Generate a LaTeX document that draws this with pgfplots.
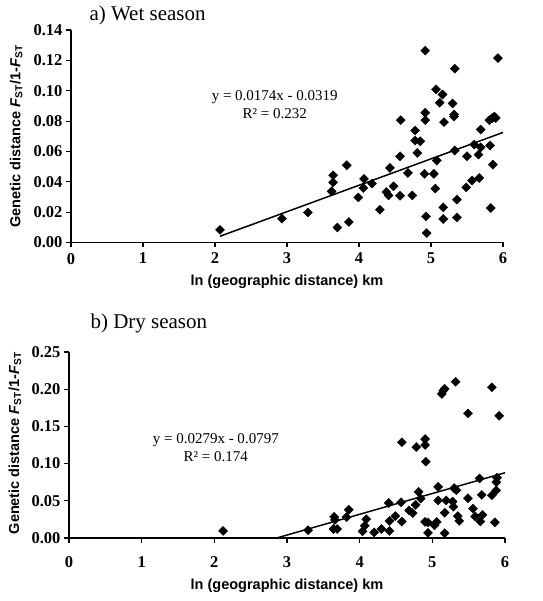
\documentclass[border=0pt]{standalone}
\usepackage{fontspec}
\setmainfont{Liberation Serif}
\newfontfamily\arialfont{Liberation Sans}
\usepackage{pgfplots}
\pgfplotsset{compat=1.18}

\pgfplotstableread{
x y
2.07 0.0083
2.93 0.0157
3.29 0.0198
3.62 0.0337
3.64 0.0396
3.64 0.0443
3.70 0.0099
3.83 0.0509
3.86 0.0135
3.99 0.0297
4.06 0.0359
4.07 0.0419
4.18 0.0388
4.29 0.0216
4.38 0.0333
4.41 0.0310
4.43 0.0491
4.48 0.0370
4.57 0.0308
4.57 0.0568
4.58 0.0806
4.68 0.0458
4.74 0.0310
4.78 0.0738
4.78 0.0672
4.85 0.0667
4.81 0.0590
4.92 0.1264
4.92 0.0855
4.92 0.0806
4.91 0.0452
4.93 0.0172
4.94 0.0062
5.04 0.0452
5.06 0.0355
5.08 0.0540
5.07 0.1009
5.12 0.0921
5.16 0.0975
5.18 0.0793
5.17 0.0231
5.17 0.0155
5.30 0.0916
5.32 0.0843
5.32 0.0830
5.33 0.1145
5.33 0.0606
5.36 0.0282
5.36 0.0165
5.49 0.0363
5.50 0.0568
5.57 0.0408
5.60 0.0645
5.66 0.0579
5.67 0.0425
5.69 0.0627
5.69 0.0744
5.81 0.0806
5.82 0.0639
5.83 0.0227
5.86 0.0513
5.85 0.0820
5.88 0.0830
5.90 0.0820
5.93 0.1215
}\wetdata

\pgfplotstableread{
x y
2.12 0.0095
3.29 0.0105
3.64 0.0121
3.69 0.0121
3.65 0.0285
3.66 0.0243
3.82 0.0280
3.85 0.0380
4.04 0.0090
4.07 0.0165
4.09 0.0253
4.20 0.0075
4.30 0.0121
4.40 0.0470
4.41 0.0229
4.41 0.0095
4.49 0.0295
4.57 0.0480
4.58 0.0221
4.58 0.1287
4.68 0.0370
4.73 0.0335
4.77 0.0445
4.78 0.1222
4.81 0.0621
4.84 0.0530
4.90 0.1330
4.90 0.1250
4.91 0.1026
4.90 0.0216
4.94 0.0210
4.94 0.0069
5.03 0.0170
5.06 0.0215
5.08 0.0687
5.08 0.0505
5.17 0.0340
5.19 0.0505
5.17 0.0065
5.13 0.1936
5.15 0.1980
5.17 0.2005
5.32 0.2100
5.30 0.0670
5.33 0.0643
5.28 0.0490
5.29 0.0420
5.35 0.0295
5.37 0.0230
5.49 0.0534
5.49 0.1675
5.56 0.0395
5.59 0.0290
5.65 0.0800
5.66 0.0222
5.68 0.0580
5.69 0.0310
5.82 0.2026
5.82 0.0575
5.86 0.0210
5.88 0.0640
5.88 0.0750
5.89 0.0810
5.92 0.1643
}\drydata

\pgfplotsset{
  mystyle/.style={
    scale only axis,
    axis lines=left,
    axis line style={-, line width=1.3pt, black},
    xmin=0, xmax=6, ymin=0,
    xtick={0,1,2,3,4,5,6},
    tick align=outside,
    major tick length=5pt,
    tick style={line width=1.1pt, black},
    scaled y ticks=false,
    /pgf/number format/assume math mode=true,
    tick label style={font=\fontsize{16.5}{16.5}\selectfont\bfseries},
    yticklabel style={/pgf/number format/fixed, /pgf/number format/fixed zerofill, /pgf/number format/precision=2},
    every axis x label/.style={at={(axis description cs:0.5,0)}, anchor=center, font=\arialfont\bfseries\fontsize{14.5}{14.5}\selectfont},
    every axis y label/.style={rotate=90, anchor=center, font=\arialfont\bfseries\fontsize{14.5}{14.5}\selectfont},
    xlabel={ln (geographic distance) km},
    ylabel={Genetic distance \textit{F}\textsubscript{ST}/1-\textit{F}\textsubscript{ST}},
    clip=false,
    scatterstyle/.style={only marks, mark=square*, mark size=3.2pt, mark options={rotate=45, fill=black, draw=black}},
  }
}

\begin{document}
\begin{tikzpicture}
\path[use as bounding box] (-69pt,-63pt) rectangle (473pt,538pt);

% Top: wet season
\begin{axis}[mystyle,
  at={(2pt,295.5pt)}, anchor=south west,
  width=432pt, height=212.5pt,
  ymax=0.14,
  ytick={0,0.02,0.04,0.06,0.08,0.10,0.12,0.14},
  xticklabel style={yshift=-2pt},
  x label style={yshift=-39.5pt},
  y label style={at={(axis description cs:-0.127,0.5)}},
]
\addplot[scatterstyle] table[x=x,y=y] {\wetdata};
\addplot[black, line width=1.5pt] coordinates {(2.07,0.004118) (6,0.0725)};
\node[anchor=west, font=\fontsize{21}{21}\selectfont] at (rel axis cs:0,1) [xshift=15pt, yshift=15pt] {a) Wet season};
\node[align=center, font=\fontsize{15}{18}\selectfont] at (axis cs:2.83,0.091) {y = 0.0174x - 0.0319\\R² = 0.232};
\end{axis}

% Bottom: dry season
\begin{axis}[mystyle,
  at={(0pt,0pt)}, anchor=south west,
  width=436pt, height=186pt,
  ymax=0.25,
  ytick={0,0.05,0.10,0.15,0.20,0.25},
  xticklabel style={yshift=-10pt},
  x label style={yshift=-48pt},
  y label style={at={(axis description cs:-0.124,0.51)}},
]
\addplot[scatterstyle] table[x=x,y=y] {\drydata};
\addplot[black, line width=1.5pt] coordinates {(2.857,0) (6,0.0877)};
\node[anchor=west, font=\fontsize{21}{21}\selectfont] at (rel axis cs:0,1) [xshift=18pt, yshift=29pt] {b) Dry season};
\node[align=center, font=\fontsize{15}{18}\selectfont] at (axis cs:2.02,0.121) {y = 0.0279x - 0.0797\\R² = 0.174};
\end{axis}
\end{tikzpicture}
\end{document}
